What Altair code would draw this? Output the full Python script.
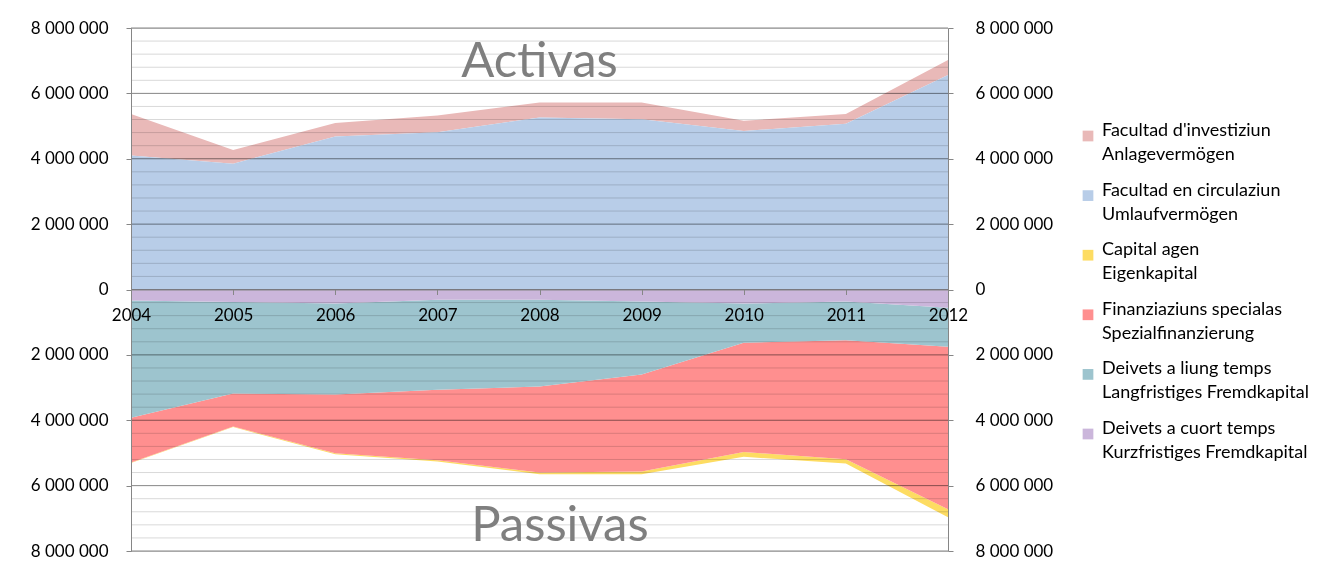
import altair as alt
import pandas as pd

years = [2004, 2005, 2006, 2007, 2008, 2009, 2010, 2011, 2012]

# Activas (positive side)
anlage = [1270000, 420000, 410000, 510000, 460000, 510000, 310000, 300000, 460000]
umlauf = [4100000, 3850000, 4680000, 4810000, 5260000, 5210000, 4850000, 5070000, 6560000]

# Passivas (drawn below zero)
eigen = [20000, 20000, 30000, 40000, 50000, 80000, 150000, 130000, 250000]
spezial = [1370000, 1010000, 1800000, 2150000, 2630000, 2970000, 3340000, 3640000, 4970000]
lang = [3580000, 2800000, 2780000, 2760000, 2660000, 2230000, 1200000, 1180000, 1190000]
kurz = [340000, 380000, 430000, 310000, 310000, 370000, 430000, 370000, 560000]

series_names = [
    "Facultad d'investiziun|Anlagevermögen",
    "Facultad en circulaziun|Umlaufvermögen",
    "Capital agen|Eigenkapital",
    "Finanziaziuns specialas|Spezialfinanzierung",
    "Deivets a liung temps|Langfristiges Fremdkapital",
    "Deivets a cuort temps|Kurzfristiges Fremdkapital",
]
series_colors = ["#E9B9B8", "#B8CDE8", "#FDDC62", "#FF8F8F", "#9DC4CE", "#CBB6DB"]
series_values = [anlage, umlauf, eigen, spezial, lang, kurz]
series_sign = [1, 1, -1, -1, -1, -1]
series_order = [2, 1, 4, 3, 2, 1]

major_ticks = [-8000000, -6000000, -4000000, -2000000, 0, 2000000, 4000000, 6000000, 8000000]
minor_ticks = [v for v in range(-7600000, 7600001, 400000) if v % 2000000 != 0]

title_text = ["Activas", "Passivas"]
title_year = [2008.0, 2008.2]
title_value = [6500000, -7700000]

rows = []
for name, vals, sgn, odr in zip(series_names, series_values, series_sign, series_order):
    for yr, v in zip(years, vals):
        rows.append({"year": yr, "series": name, "value": sgn * v, "order": odr})
df = pd.DataFrame(rows)

FONT = "Lato"
W, H = 817, 523

xscale = alt.Scale(domain=[2004, 2012], nice=False, zero=False)
yscale = alt.Scale(domain=[-8000000, 8000000], nice=False)
label_expr = "replace(format(abs(datum.value), ','), regexp(',', 'g'), ' ')"

areas = alt.Chart(df).mark_area(opacity=1).encode(
    x=alt.X("year:Q", scale=xscale, title=None,
            axis=alt.Axis(values=years, format="d", offset=-H / 2, grid=False,
                          domain=True, domainColor="#868686", tickColor="#868686",
                          tickSize=5, labelPadding=13, labelFont=FONT, labelFontSize=17,
                          labelColor="#000000", labelFlush=False, labelOverlap=False,
                          zindex=3)),
    y=alt.Y("value:Q", stack="zero", scale=yscale, title=None,
            axis=alt.Axis(values=major_ticks, labelExpr=label_expr, grid=False,
                          domainColor="#868686", tickColor="#868686", tickSize=5,
                          labelPadding=18, labelFont=FONT, labelFontSize=17,
                          labelColor="#000000", zindex=1)),
    color=alt.Color("series:N",
                    scale=alt.Scale(domain=series_names, range=series_colors),
                    legend=alt.Legend(title=None, orient="none", legendX=948, legendY=99,
                                      labelExpr="split(datum.label, '|')",
                                      labelFont=FONT, labelFontSize=18, labelColor="#000000",
                                      labelBaseline="alphabetic", labelOffset=5,
                                      symbolType="square", symbolSize=115,
                                      symbolStrokeWidth=0, rowPadding=17.6, padding=0,
                                      labelLimit=400)),
    order=alt.Order("order:Q"),
)

minor = alt.Chart(pd.DataFrame({"v": minor_ticks})).mark_rule(
    color="#d9d9d9", strokeWidth=1, blend="multiply"
).encode(y=alt.Y("v:Q", scale=yscale, axis=None))

major = alt.Chart(pd.DataFrame({"v": major_ticks})).mark_rule(
    color="#868686", strokeWidth=1, blend="multiply"
).encode(
    y=alt.Y("v:Q", scale=yscale, title=None,
            axis=alt.Axis(orient="right", values=major_ticks, labelExpr=label_expr,
                          grid=False, domainColor="#868686", tickColor="#868686",
                          tickSize=5, labelPadding=22, labelFont=FONT, labelFontSize=17,
                          labelColor="#000000", zindex=1))
)

titles = alt.Chart(pd.DataFrame({"t": title_text, "year": title_year, "v": title_value})).mark_text(
    font=FONT, fontSize=49, color="#7F7F7F", baseline="alphabetic", align="center"
).encode(
    x=alt.X("year:Q", scale=xscale),
    y=alt.Y("v:Q", scale=yscale, axis=None),
    text="t:N",
)

chart = alt.layer(areas, minor, major, titles).resolve_scale(y="independent").properties(
    width=W, height=H,
    autosize=alt.AutoSizeParams(type="none"),
    padding={"left": 123, "top": 20, "right": 372, "bottom": 21},
).configure_view(stroke=None).configure(
    style={"guide-label": {"lineHeight": 24}}
)

chart.save("out.html", embed_options={"renderer": "svg", "actions": False})
